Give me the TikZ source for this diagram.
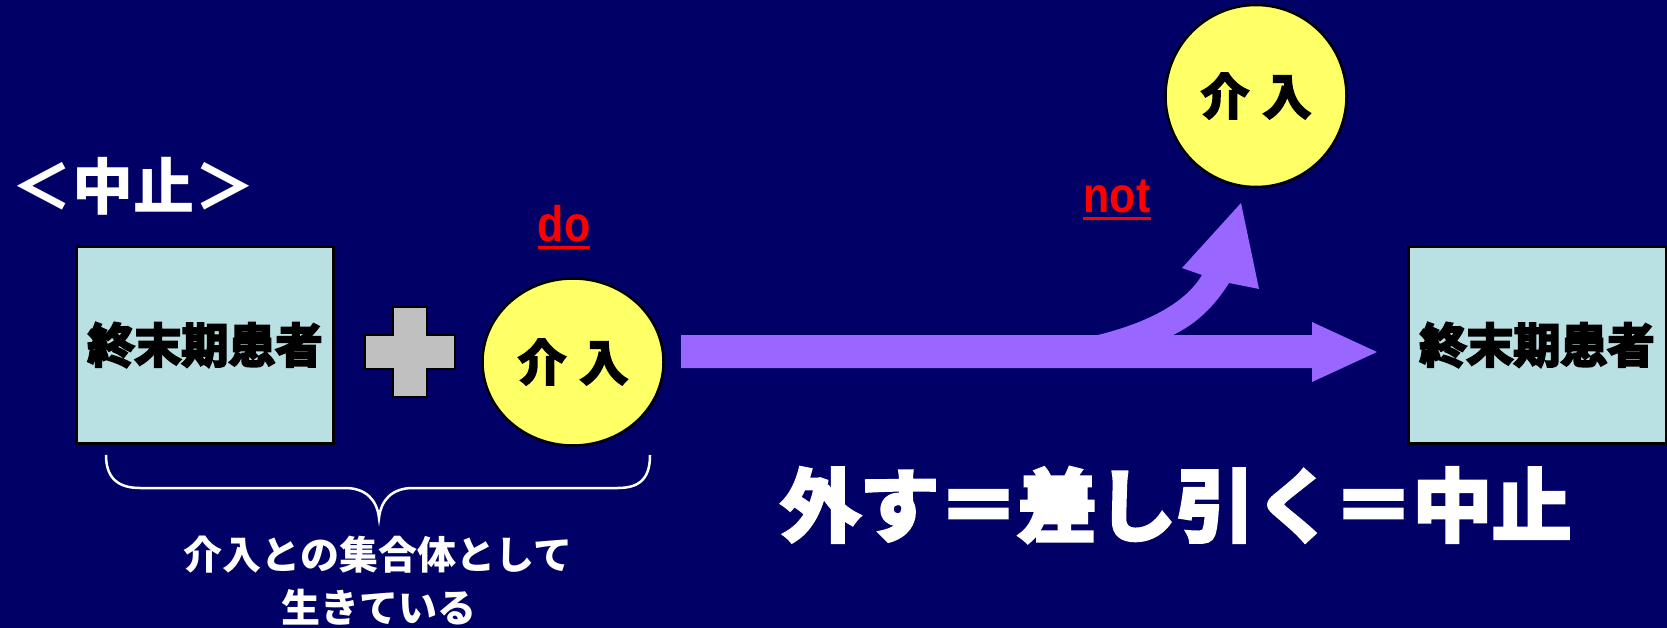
\documentclass[tikz,border=0pt]{standalone}
\usepackage{fontspec}
\setmainfont{Liberation Sans}
\newfontfamily\jp{Noto Sans CJK JP}
\newfontfamily\jpheavy{Noto Sans CJK JP Bold}[FakeBold=5]
\newfontfamily\redfont{Liberation Sans Bold}[FakeStretch=0.86]
\usetikzlibrary{shapes.geometric}
\definecolor{bgnavy}{RGB}{0,0,102}
\definecolor{boxblue}{RGB}{185,224,227}
\definecolor{circyellow}{RGB}{255,255,102}
\definecolor{arrowpurple}{RGB}{153,102,255}
\definecolor{plusgray}{RGB}{192,192,192}
\tikzset{
  patientbox/.style={draw=black, line width=3pt, fill=boxblue, minimum width=257pt, minimum height=196pt, inner sep=0pt,
    font=\jpheavy\fontsize{47}{50}\selectfont},
  interv/.style={ellipse, draw=black, line width=2.5pt, fill=circyellow, inner sep=0pt,
    font=\jpheavy\fontsize{48}{50}\selectfont},
  redword/.style={text=red, inner sep=0pt, anchor=base, font=\redfont\fontsize{50}{54}\selectfont},
  redline/.style={draw=red, line width=3pt},
  whitetxt/.style={text=white, inner sep=0pt},
  bracest/.style={draw=white, line width=2.5pt},
  plusst/.style={fill=plusgray, draw=black, line width=2.5pt},
  arrowst/.style={fill=arrowpurple, draw=none}
}
\begin{document}
\begin{tikzpicture}[x=1pt, y=-1pt]
\useasboundingbox (0,0) rectangle (1667,628);
\fill[bgnavy] (0,0) rectangle (1667,628);

% title
\node[whitetxt, font=\jp\bfseries\fontsize{61}{64}\selectfont] (title) at (133,186) {＜中止＞};

% left patient box
\node[patientbox] (p1) at (205,345) {終末期患者};
% plus sign
\path[plusst] (393,307) -- (427,307) -- (427,335) -- (455,335) -- (455,369) -- (427,369)
  -- (427,397) -- (393,397) -- (393,369) -- (365,369) -- (365,335) -- (393,335) -- cycle;
% left intervention
\node[interv, minimum width=181pt, minimum height=167pt] (i1) at (573,362) {介\hspace{14pt}入};
% do
\node[redword] (do) at (564,242) {do};
\draw[redline] ([yshift=-6pt]do.base west) -- ([yshift=-6pt]do.base east);

% right patient box
\node[patientbox, minimum width=258pt] (p2) at (1537,345) {終末期患者};
% top intervention
\node[interv, minimum width=181pt, minimum height=182pt] (i2) at (1256,96) {介\hspace{14pt}入};
% not
\node[redword] (not) at (1117,213) {not};
\draw[redline] ([yshift=-6pt]not.base west) -- ([yshift=-6pt]not.base east);

% big arrow with branch
\coordinate (a0) at (681,335);
\coordinate (tipmain) at (1377,352);
\coordinate (tipbranch) at (1241,203);
\path[arrowst] (a0) -- (1098,335) .. controls (1150,322) and (1186,302) .. (1202,275)
  -- (1182,268) -- (tipbranch) -- (1259,289) -- (1229,283)
  .. controls (1214,307) and (1196,324) .. (1173,335)
  -- (1312,335) -- (1312,322) -- (tipmain) -- (1312,382) -- (1312,368) -- (681,368) -- cycle;

% brace
\coordinate (bl) at (106,455);
\coordinate (br) at (650,455);
\coordinate (btip) at (379,518);
\draw[bracest] (bl) .. controls (106,476) and (116,488) .. (140,488) -- (345,488)
  .. controls (366,488) and (377,500) .. (btip)
  .. controls (381,500) and (392,488) .. (413,488) -- (618,488)
  .. controls (642,488) and (650,476) .. (br);

\node[whitetxt, font=\jp\bfseries\fontsize{39}{42}\selectfont] (t1) at (378,555) {介入との集合体として};
\node[whitetxt, font=\jp\bfseries\fontsize{39}{42}\selectfont] (t2) at (379,607) {生きている};

% big statement
\node[whitetxt, font=\jpheavy\fontsize{79}{84}\selectfont] (stmt) at (1176,505) {外す＝差し引く＝中止};
\end{tikzpicture}
\end{document}
